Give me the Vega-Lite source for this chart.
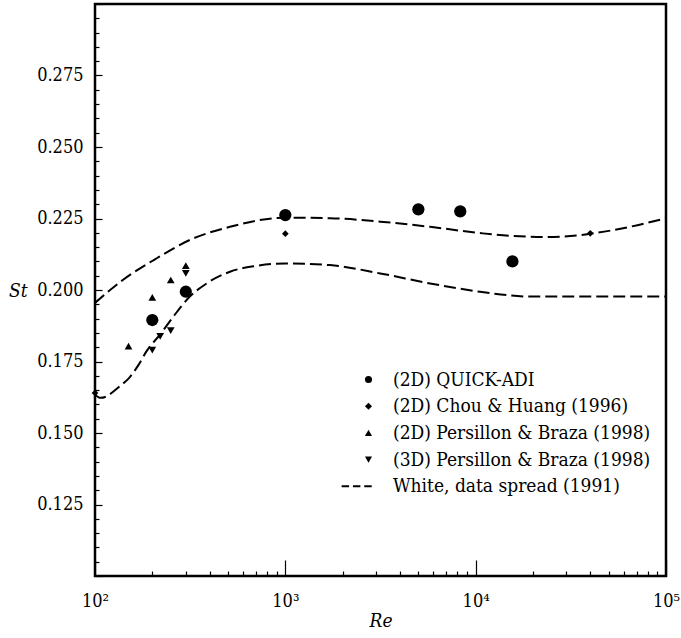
{
  "$schema": "https://vega.github.io/schema/vega-lite/v6.json",
  "autosize": "none",
  "padding": {"left": 95, "top": 4, "right": 15, "bottom": 62},
  "width": 571,
  "height": 572,
  "background": "white",
  "config": {
    "view": {"stroke": "black", "strokeWidth": 2.5},
    "font": "DejaVu Serif Condensed"
  },
  "datasets": {
    "points": [
      {"series": "(2D) QUICK-ADI", "Re": 200, "St": 0.1895},
      {"series": "(2D) QUICK-ADI", "Re": 300, "St": 0.1994},
      {"series": "(2D) QUICK-ADI", "Re": 1000, "St": 0.2262},
      {"series": "(2D) QUICK-ADI", "Re": 5000, "St": 0.2282},
      {"series": "(2D) QUICK-ADI", "Re": 8300, "St": 0.2275},
      {"series": "(2D) QUICK-ADI", "Re": 15600, "St": 0.2100},
      {"series": "(2D) Chou & Huang (1996)", "Re": 100, "St": 0.164},
      {"series": "(2D) Chou & Huang (1996)", "Re": 1000, "St": 0.2197},
      {"series": "(2D) Chou & Huang (1996)", "Re": 40000, "St": 0.2198},
      {"series": "(2D) Persillon & Braza (1998)", "Re": 150, "St": 0.1804},
      {"series": "(2D) Persillon & Braza (1998)", "Re": 200, "St": 0.1974},
      {"series": "(2D) Persillon & Braza (1998)", "Re": 250, "St": 0.2035},
      {"series": "(2D) Persillon & Braza (1998)", "Re": 300, "St": 0.2085},
      {"series": "(3D) Persillon & Braza (1998)", "Re": 200, "St": 0.1790},
      {"series": "(3D) Persillon & Braza (1998)", "Re": 220, "St": 0.1838},
      {"series": "(3D) Persillon & Braza (1998)", "Re": 250, "St": 0.1858},
      {"series": "(3D) Persillon & Braza (1998)", "Re": 300, "St": 0.2058}
    ],
    "curves": [
      {"curve": "upper", "Re": 100, "St": 0.1955},
      {"curve": "upper", "Re": 140, "St": 0.2035},
      {"curve": "upper", "Re": 211, "St": 0.2111},
      {"curve": "upper", "Re": 315, "St": 0.2175},
      {"curve": "upper", "Re": 512, "St": 0.2221},
      {"curve": "upper", "Re": 1000, "St": 0.2253},
      {"curve": "upper", "Re": 1718, "St": 0.2251},
      {"curve": "upper", "Re": 3150, "St": 0.2239},
      {"curve": "upper", "Re": 5760, "St": 0.2221},
      {"curve": "upper", "Re": 10900, "St": 0.2198},
      {"curve": "upper", "Re": 15700, "St": 0.2189},
      {"curve": "upper", "Re": 23700, "St": 0.2185},
      {"curve": "upper", "Re": 35400, "St": 0.2192},
      {"curve": "upper", "Re": 43500, "St": 0.2200},
      {"curve": "upper", "Re": 59500, "St": 0.2216},
      {"curve": "upper", "Re": 100000, "St": 0.2251},
      {"curve": "lower", "Re": 100, "St": 0.1635},
      {"curve": "lower", "Re": 107, "St": 0.1623},
      {"curve": "lower", "Re": 115, "St": 0.1628},
      {"curve": "lower", "Re": 125, "St": 0.1645},
      {"curve": "lower", "Re": 137, "St": 0.1667},
      {"curve": "lower", "Re": 150, "St": 0.1690},
      {"curve": "lower", "Re": 170, "St": 0.1740},
      {"curve": "lower", "Re": 187, "St": 0.1787},
      {"curve": "lower", "Re": 220, "St": 0.1845},
      {"curve": "lower", "Re": 258, "St": 0.1907},
      {"curve": "lower", "Re": 315, "St": 0.1977},
      {"curve": "lower", "Re": 386, "St": 0.2023},
      {"curve": "lower", "Re": 512, "St": 0.2064},
      {"curve": "lower", "Re": 700, "St": 0.2084},
      {"curve": "lower", "Re": 1000, "St": 0.2093},
      {"curve": "lower", "Re": 1718, "St": 0.2087},
      {"curve": "lower", "Re": 3150, "St": 0.2058},
      {"curve": "lower", "Re": 5760, "St": 0.2023},
      {"curve": "lower", "Re": 10540, "St": 0.1994},
      {"curve": "lower", "Re": 19300, "St": 0.1977},
      {"curve": "lower", "Re": 43000, "St": 0.1977},
      {"curve": "lower", "Re": 100000, "St": 0.1977}
    ]
  },
  "encoding": {
    "x": {
      "field": "Re", "type": "quantitative",
      "scale": {"type": "log", "domain": [100, 100000], "nice": false},
      "axis": {
        "title": "Re",
        "values": [100, 200, 300, 400, 500, 600, 700, 800, 900, 1000, 2000, 3000, 4000, 5000, 6000, 7000, 8000, 9000, 10000, 20000, 30000, 40000, 50000, 60000, 70000, 80000, 90000, 100000],
        "labelExpr": "datum.value == 100 ? '10²' : datum.value == 1000 ? '10³' : datum.value == 10000 ? '10⁴' : datum.value == 100000 ? '10⁵' : ''",
        "tickSize": {"condition": {"test": "datum.value == 100 || datum.value == 1000 || datum.value == 10000 || datum.value == 100000", "value": -16}, "value": -5},
        "tickColor": "black", "tickWidth": 1.2,
        "domain": false, "grid": false,
        "labelFlush": false, "labelOverlap": false,
        "labelFont": "DejaVu Serif Condensed", "labelFontSize": 18, "labelColor": "black",
        "labelPadding": 32,
        "titleFont": "DejaVu Serif Condensed", "titleFontSize": 19, "titleFontStyle": "italic", "titleFontWeight": "normal", "titleColor": "black",
        "titleBaseline": "middle", "titleY": 44
      }
    },
    "y": {
      "field": "St", "type": "quantitative",
      "scale": {"domain": [0.1, 0.3], "nice": false, "zero": false},
      "axis": {
        "title": "St",
        "values": [0.1, 0.105, 0.11, 0.115, 0.12, 0.125, 0.13, 0.135, 0.14, 0.145, 0.15, 0.155, 0.16, 0.165, 0.17, 0.175, 0.18, 0.185, 0.19, 0.195, 0.2, 0.205, 0.21, 0.215, 0.22, 0.225, 0.23, 0.235, 0.24, 0.245, 0.25, 0.255, 0.26, 0.265, 0.27, 0.275, 0.28, 0.285, 0.29, 0.295, 0.3],
        "labelExpr": "abs(datum.value*40 - round(datum.value*40)) < 0.000001 && datum.value > 0.11 && datum.value < 0.29 ? format(datum.value, '.3f') : ''",
        "tickSize": {"condition": {"test": "abs(datum.value*40 - round(datum.value*40)) < 0.000001", "value": -7}, "value": -4},
        "tickColor": "black", "tickWidth": 1.2,
        "domain": false, "grid": false,
        "labelOverlap": false, "labelFlush": false,
        "labelFont": "DejaVu Serif Condensed", "labelFontSize": 18, "labelColor": "black",
        "labelPadding": 19,
        "titleFont": "DejaVu Serif Condensed", "titleFontSize": 19, "titleFontStyle": "italic", "titleFontWeight": "normal", "titleColor": "black",
        "titleAngle": 0, "titleAlign": "right", "titleBaseline": "middle",
        "titleX": -68, "titleY": 286
      }
    }
  },
  "layer": [
    {
      "data": {"name": "curves"},
      "mark": {"type": "line", "interpolate": "monotone", "color": "black", "strokeWidth": 2, "strokeDash": [12, 5]},
      "encoding": {"detail": {"field": "curve"}}
    },
    {
      "data": {"name": "points"},
      "mark": {"type": "point", "filled": true, "color": "black", "opacity": 1},
      "encoding": {
        "shape": {
          "field": "series", "type": "nominal",
          "scale": {
            "domain": ["(2D) QUICK-ADI", "(2D) Chou & Huang (1996)", "(2D) Persillon & Braza (1998)", "(3D) Persillon & Braza (1998)", "White, data spread (1991)"],
            "range": ["circle", "diamond", "triangle-up", "triangle-down", "M-7.6,-0.3H-5.5V0.3H-7.6Z M-4.4,-0.3H-2.3V0.3H-4.4Z M-1.2,-0.3H0.9V0.3H-1.2Z"]
          },
          "legend": {
            "title": null,
            "orient": "none",
            "legendX": 264,
            "legendY": 366,
            "padding": 0,
            "symbolSize": 50,
            "symbolFillColor": "black",
            "symbolStrokeColor": "black",
            "symbolStrokeWidth": 0.8,
            "symbolOpacity": 1,
            "labelFont": "DejaVu Serif Condensed",
            "labelFontSize": 19,
            "labelColor": "black",
            "labelOffset": 15,
            "labelLimit": 400,
            "rowPadding": 6.7
          }
        },
        "size": {
          "condition": [
            {"test": "datum.series === '(2D) QUICK-ADI'", "value": 150},
            {"test": "datum.series === '(2D) Chou & Huang (1996)'", "value": 45}
          ],
          "value": 60
        }
      }
    }
  ]
}
